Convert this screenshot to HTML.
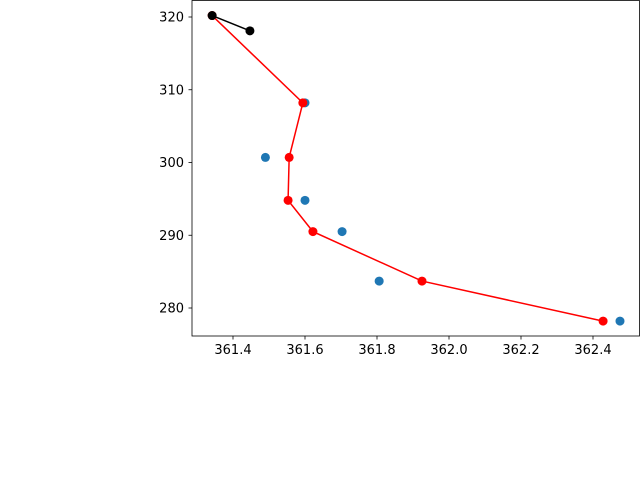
<!DOCTYPE html>
<html><head><meta charset="utf-8"><style>
body{margin:0;background:#fff;width:640px;height:480px;overflow:hidden;font-family:"DejaVu Sans","Liberation Sans",sans-serif}
</style></head><body>
<svg id="chart" width="640" height="480" xmlns="http://www.w3.org/2000/svg">
<rect x="0" y="0" width="640" height="480" fill="#fff"/>
<g id="plot"></g>
</svg>
<script>
const xTicks=[361.4,361.6,361.8,362.0,362.2,362.4];
const yTicks=[280,290,300,310,320];
const blueX=[361.60,361.49,361.60,361.703,361.806,362.475];
const blueY=[308.2,300.7,294.8,290.5,283.7,278.2];
const redX=[361.342,361.594,361.556,361.553,361.622,361.925,362.428];
const redY=[320.2,308.2,300.7,294.8,290.5,283.7,278.2];
const blackX=[361.342,361.447];
const blackY=[320.2,318.1];
const L=192,R=639.5,T=0.5,B=336;
const sx=v=>233+(v-361.4)*360;
const sy=v=>17+(320-v)*7.275;
const NS="http://www.w3.org/2000/svg";
const g=document.getElementById('plot');
function mk(t,a){const e=document.createElementNS(NS,t);for(const k in a)e.setAttribute(k,a[k]);g.appendChild(e);return e;}
xTicks.forEach(v=>{
 const l=mk('line',{x1:sx(v),x2:sx(v),y1:B,y2:B+3.5,stroke:'#000','stroke-width':0.8});
 
 
 const t=mk('text',{x:sx(v),y:B+18,'font-size':13,'text-anchor':'middle',fill:'#000'});
 t.textContent=v.toFixed(1);
 
 
});
yTicks.forEach(v=>{
 const l=mk('line',{x1:L-3.5,x2:L,y1:sy(v),y2:sy(v),stroke:'#000','stroke-width':0.8});
 
 
 const t=mk('text',{x:L-8,y:sy(v)+4.5,'font-size':13,'text-anchor':'end',fill:'#000'});
 t.textContent=v;
 
 
});
blueX.forEach((x,i)=>{
 const c=mk('circle',{cx:sx(x),cy:sy(blueY[i]),r:4.5,fill:'#1f77b4'});
 
 
});
const rp=mk('polyline',{points:redX.map((x,i)=>sx(x)+','+sy(redY[i])).join(' '),fill:'none',stroke:'#ff0000','stroke-width':1.5});


redX.forEach((x,i)=>{
 const c=mk('circle',{cx:sx(x),cy:sy(redY[i]),r:4.5,fill:'#ff0000'});
 
 
});
const bp=mk('polyline',{points:blackX.map((x,i)=>sx(x)+','+sy(blackY[i])).join(' '),fill:'none',stroke:'#000','stroke-width':1.5});


blackX.forEach((x,i)=>{
 const c=mk('circle',{cx:sx(x),cy:sy(blackY[i]),r:4.5,fill:'#000'});
 
 
});
const fr=mk('rect',{x:L,y:T,width:R-L,height:B-T,fill:'none',stroke:'#000','stroke-width':0.8});


</script>
</body></html>
